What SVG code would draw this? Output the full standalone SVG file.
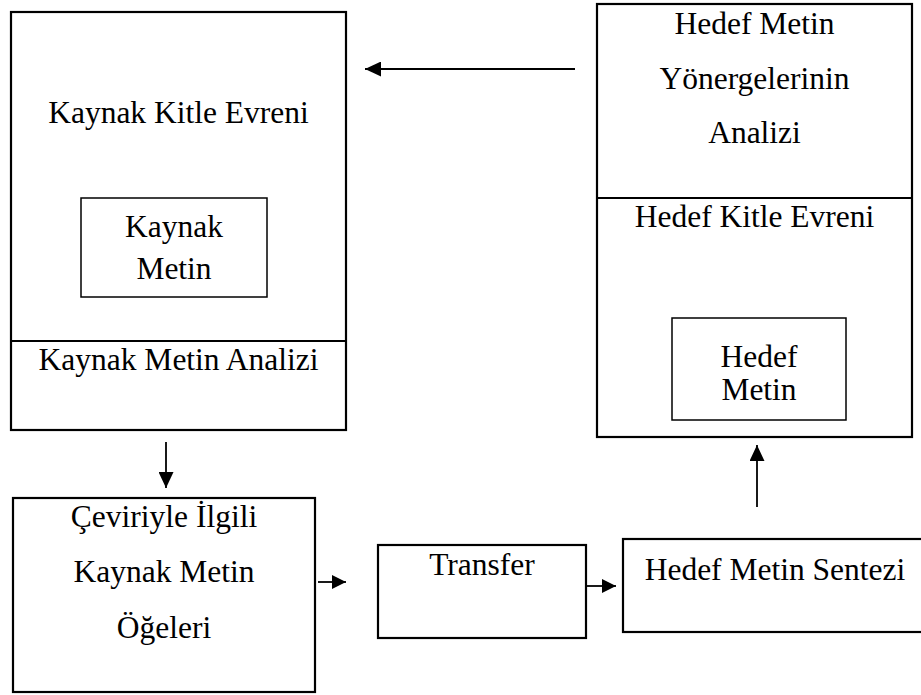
<svg xmlns="http://www.w3.org/2000/svg" width="921" height="695" viewBox="0 0 921 695">
<style>
.box{fill:none;stroke:#000;stroke-width:2.2}
.inner{fill:none;stroke:#000;stroke-width:1.5}
.div{stroke:#000;stroke-width:2.2}
.t{font-family:"Liberation Serif","Times New Roman",serif;font-size:31.5px;fill:#000;text-anchor:middle}
.c{stroke:#000;stroke-width:1.8;fill:none}
</style>
<defs>
<marker id="ah" viewBox="0 0 10 10" refX="10" refY="5" markerWidth="16" markerHeight="15" markerUnits="userSpaceOnUse" orient="auto" preserveAspectRatio="none">
<path d="M0,0 L10,5 L0,10 z" fill="#000"/>
</marker>
<marker id="ahs" viewBox="0 0 10 10" refX="10" refY="5" markerWidth="14" markerHeight="14" markerUnits="userSpaceOnUse" orient="auto" preserveAspectRatio="none">
<path d="M0,0 L10,5 L0,10 z" fill="#000"/>
</marker>
</defs>
<rect width="921" height="695" fill="#fff"/>

<g id="kaynak-kitle-evreni">
<rect class="box" x="11" y="12" width="335" height="418"/>
<line class="div" x1="11" y1="341" x2="346" y2="341"/>
<text class="t" x="178.5" y="123">Kaynak Kitle Evreni</text>
<text class="t" x="178.5" y="370">Kaynak Metin Analizi</text>
</g>
<g id="kaynak-metin">
<rect class="inner" x="81" y="198" width="186" height="99"/>
<text class="t" x="174" y="237">Kaynak</text>
<text class="t" x="174" y="279">Metin</text>
</g>

<g id="hedef-kitle-evreni">
<rect class="box" x="597" y="4" width="315" height="433"/>
<line class="div" x1="597" y1="198" x2="912" y2="198"/>
<text class="t" x="754.5" y="34">Hedef Metin</text>
<text class="t" x="754.5" y="89">Yönergelerinin</text>
<text class="t" x="754.5" y="143">Analizi</text>
<text class="t" x="754.5" y="227">Hedef Kitle Evreni</text>
</g>
<g id="hedef-metin">
<rect class="inner" x="672" y="318" width="174" height="102"/>
<text class="t" x="759" y="367">Hedef</text>
<text class="t" x="759" y="400">Metin</text>
</g>

<g id="ceviriyle-ilgili">
<rect class="box" x="13" y="498" width="302" height="194"/>
<text class="t" x="164" y="527">Çeviriyle İlgili</text>
<text class="t" x="164" y="582">Kaynak Metin</text>
<text class="t" x="164" y="638">Öğeleri</text>
</g>

<g id="transfer">
<rect class="box" x="378" y="545" width="208" height="93"/>
<text class="t" x="482" y="575">Transfer</text>
</g>

<g id="hedef-metin-sentezi">
<rect class="box" x="623" y="539" width="300" height="93"/>
<text class="t" x="775" y="580">Hedef Metin Sentezi</text>
</g>

<g id="connectors">
<line class="c" x1="575" y1="69" x2="365" y2="69" marker-end="url(#ah)"/>
<line class="c" x1="166" y1="442" x2="166" y2="488" marker-end="url(#ah)"/>
<line class="c" x1="318" y1="582" x2="346" y2="582" marker-end="url(#ahs)"/>
<line class="c" x1="585" y1="586" x2="616" y2="586" marker-end="url(#ahs)"/>
<line class="c" x1="757" y1="507" x2="757" y2="445" marker-end="url(#ah)"/>
</g>
</svg>
